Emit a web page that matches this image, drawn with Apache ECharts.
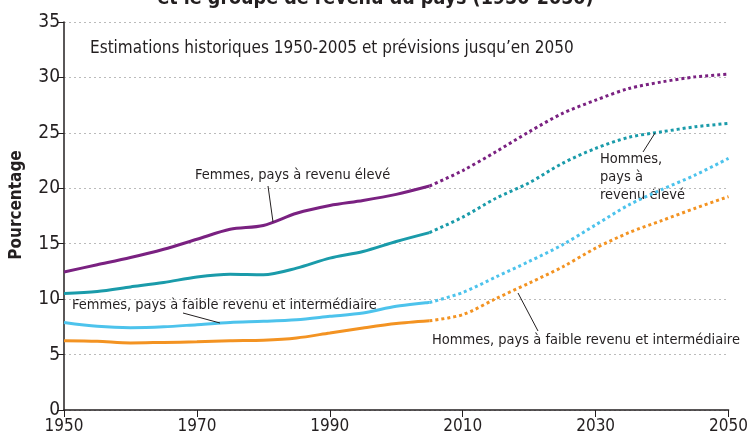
<!DOCTYPE html>
<html>
<head>
<meta charset="utf-8">
<script src="https://cdn.jsdelivr.net/npm/echarts@6/dist/echarts.min.js"></script>
<style>
  html, body { margin: 0; padding: 0; background: #fff; }
  #chart { width: 751px; height: 438px; }
</style>
</head>
<body>
<div id="chart"></div>
<script>
// Estimations 1950-2005 (trait plein) et prévisions 2005-2050 (pointillé)
var histYears = [1950, 1955, 1960, 1965, 1970, 1975, 1980, 1985, 1990, 1995, 2000, 2005];
var projYears = [2005, 2010, 2015, 2020, 2025, 2030, 2035, 2040, 2045, 2050];

var femmesEleveHist = [12.45, 13.1, 13.75, 14.5, 15.4, 16.3, 16.65, 17.75, 18.45, 18.9, 19.45, 20.2];
var femmesEleveProj = [20.2, 21.6, 23.3, 25.1, 26.75, 27.95, 29.0, 29.6, 30.05, 30.3];

var hommesEleveHist = [10.5, 10.7, 11.1, 11.5, 12.0, 12.25, 12.2, 12.8, 13.7, 14.3, 15.2, 16.0];
var hommesEleveProj = [16.0, 17.4, 19.1, 20.5, 22.25, 23.6, 24.6, 25.1, 25.55, 25.85];

var femmesFaibleHist = [7.9, 7.55, 7.42, 7.5, 7.7, 7.9, 8.0, 8.15, 8.45, 8.75, 9.35, 9.7];
var femmesFaibleProj = [9.7, 10.6, 12.0, 13.4, 14.9, 16.7, 18.5, 19.9, 21.2, 22.7];

var hommesFaibleHist = [6.25, 6.2, 6.05, 6.1, 6.15, 6.25, 6.3, 6.5, 6.95, 7.4, 7.8, 8.05];
var hommesFaibleProj = [8.05, 8.6, 10.05, 11.45, 12.9, 14.6, 16.0, 17.1, 18.2, 19.25];

var yTicks = [0, 5, 10, 15, 20, 25, 30, 35];
var xTicks = [1950, 1970, 1990, 2010, 2030, 2050];

var FONT = '"Liberation Sans Narrow", "DejaVu Sans Condensed", "Liberation Sans", sans-serif';
var colors = {
  purple: '#7A2181',
  teal: '#1A9BAA',
  sky: '#4DC3EC',
  orange: '#F39322',
  ink: '#231F20',
  grid: '#BBBBBB'
};

function pairs(years, values) {
  return years.map(function(y, i) { return [y, values[i]]; });
}

function histSeries(values, color) {
  return {
    type: 'line',
    data: pairs(histYears, values),
    smooth: 0.3,
    symbol: 'none',
    lineStyle: { color: color, width: 3 },
    z: 3
  };
}

function projSeries(values, color) {
  return {
    type: 'line',
    data: pairs(projYears, values),
    smooth: 0.3,
    symbol: 'none',
    lineStyle: { color: color, width: 3, type: [3, 3], cap: 'butt' },
    z: 3
  };
}

function label(text, x, y, size) {
  return {
    type: 'text',
    left: x,
    top: y,
    style: {
      text: text,
      font: (size || 14.5) + 'px ' + FONT,
      fill: colors.ink,
      lineHeight: 18
    }
  };
}

function leader(x1, y1, x2, y2) {
  return {
    type: 'line',
    shape: { x1: x1, y1: y1, x2: x2, y2: y2 },
    style: { stroke: colors.ink, lineWidth: 1 },
    z: 5
  };
}

var chart = echarts.init(document.getElementById('chart'));

chart.setOption({
  animation: false,
  backgroundColor: '#fff',
  textStyle: { fontFamily: FONT },
  grid: { left: 64, right: 18, top: 22, bottom: 28 },
  xAxis: {
    type: 'value',
    min: 1950,
    max: 2050,
    interval: 20,
    axisLine: { lineStyle: { color: colors.ink, width: 1.5 } },
    axisTick: { show: true, length: 7, lineStyle: { color: colors.ink, width: 1 } },
    axisLabel: {
      color: colors.ink, fontSize: 17, fontFamily: FONT, margin: 8,
      formatter: function(v) { return xTicks.indexOf(v) >= 0 ? String(v) : ''; }
    },
    splitLine: { show: false }
  },
  yAxis: {
    type: 'value',
    min: 0,
    max: 35,
    interval: 5,
    axisLine: { show: true, lineStyle: { color: colors.ink, width: 1.5 } },
    axisTick: { show: true, length: 7, lineStyle: { color: colors.ink, width: 1 } },
    axisLabel: {
      color: colors.ink, fontSize: 19, fontFamily: FONT, margin: 4,
      formatter: function(v) { return yTicks.indexOf(v) >= 0 ? String(v) : ''; }
    },
    splitLine: { show: true, lineStyle: { color: colors.grid, type: [2, 3], width: 1 } }
  },
  series: [
    histSeries(femmesEleveHist, colors.purple),
    projSeries(femmesEleveProj, colors.purple),
    histSeries(hommesEleveHist, colors.teal),
    projSeries(hommesEleveProj, colors.teal),
    histSeries(femmesFaibleHist, colors.sky),
    projSeries(femmesFaibleProj, colors.sky),
    histSeries(hommesFaibleHist, colors.orange),
    projSeries(hommesFaibleProj, colors.orange)
  ],
  graphic: [
    {
      type: 'text',
      left: 'center',
      top: -11,
      style: {
        text: 'et le groupe de revenu du pays (1950-2050)',
        font: 'bold 19.5px ' + FONT,
        fill: colors.ink
      }
    },
    {
      type: 'text',
      x: 17,
      y: 205,
      rotation: Math.PI / 2,
      style: {
        text: 'Pourcentage',
        font: 'bold 17px ' + FONT,
        fill: colors.ink,
        textAlign: 'center',
        textVerticalAlign: 'middle'
      }
    },
    label('Estimations historiques 1950-2005 et prévisions jusqu\u2019en 2050', 90, 40, 17),
    label('Femmes, pays à revenu élevé', 195, 166),
    leader(268, 186, 273, 222),
    label('Femmes, pays à faible revenu et intermédiaire', 72, 296),
    leader(183, 313, 220, 323),
    label('Hommes,\npays à\nrevenu élevé', 600, 150),
    leader(643, 152, 655, 133),
    label('Hommes, pays à faible revenu et intermédiaire', 432, 331),
    leader(538, 331, 518, 293)
  ]
});
</script>
</body>
</html>
